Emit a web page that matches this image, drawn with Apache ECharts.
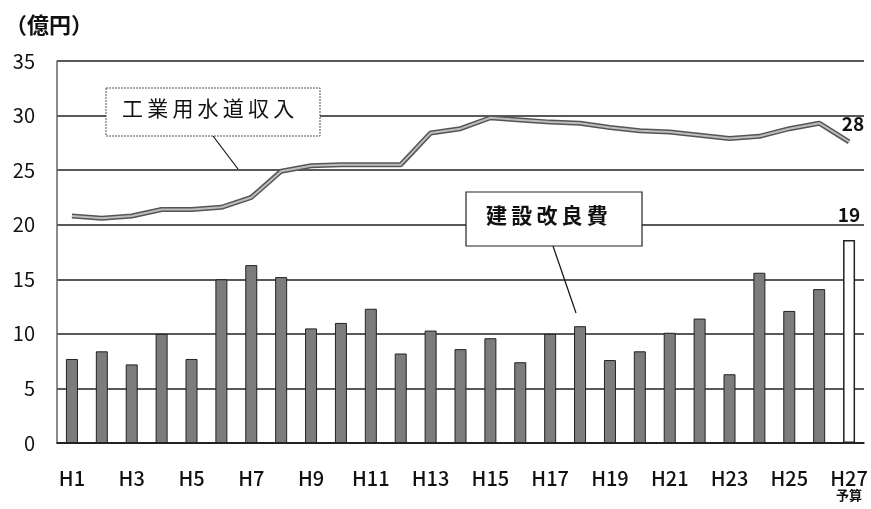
<!DOCTYPE html>
<html>
<head>
<meta charset="utf-8">
<script src="https://cdn.jsdelivr.net/npm/echarts@6/dist/echarts.min.js"></script>
<style>
html, body { margin: 0; padding: 0; background: #fff; }
#chart { width: 871px; height: 509px; }
</style>
</head>
<body>
<div id="chart"></div>
<script>
const years = ['H1','H2','H3','H4','H5','H6','H7','H8','H9','H10','H11','H12','H13','H14',
    'H15','H16','H17','H18','H19','H20','H21','H22','H23','H24','H25','H26','H27'];
// 工業用水道収入 (億円)
const revenue = [20.8, 20.6, 20.8, 21.4, 21.4, 21.6, 22.5, 24.9, 25.4, 25.5, 25.5, 25.5, 28.4, 28.8,
    29.8, 29.6, 29.4, 29.3, 28.9, 28.6, 28.5, 28.2, 27.9, 28.1, 28.8, 29.3, 27.6];
// 建設改良費 (億円), last one is the budget
const construction = [7.7, 8.4, 7.2, 10.0, 7.7, 15.0, 16.3, 15.2, 10.5, 11.0, 12.3, 8.2, 10.3, 8.6,
    9.6, 7.4, 10.0, 10.7, 7.6, 8.4, 10.1, 11.4, 6.3, 15.6, 12.1, 14.1, 18.6];
const yTicks = [0, 5, 10, 15, 20, 25, 30, 35];

const font = '"Noto Sans CJK JP", "Noto Sans", sans-serif';
const last = years.length - 1;
const sp = '\u2009';

let myChart;

window.onload = function () {
    myChart = echarts.init(document.getElementById('chart'));
    myChart.setOption(option);
}

const option = {
    animation: false,
    grid: { left: 57, right: 7, top: 61, bottom: 66 },
    xAxis: {
        type: 'category',
        data: years,
        axisLine: { lineStyle: { color: '#111', width: 1.5 } },
        axisTick: { interval: 1, length: 5, lineStyle: { color: '#111' } },
        axisLabel: {
            interval: 1,
            margin: 24,
            fontFamily: font,
            fontSize: 20,
            fontWeight: 500,
            color: '#111',
            lineHeight: 22,
            formatter: function (v) {
                return v === 'H27' ? v + '\n{s|予算}' : v;
            },
            rich: { s: { fontSize: 13, fontWeight: 'bold', fontFamily: font, color: '#111', lineHeight: 12 } }
        }
    },
    yAxis: {
        type: 'value',
        min: yTicks[0],
        max: yTicks[yTicks.length - 1],
        interval: 5,
        axisLine: { show: true, lineStyle: { color: '#666', width: 1.5 } },
        axisTick: { show: false },
        splitLine: { lineStyle: { color: '#222', width: 1.5 } },
        axisLabel: { fontFamily: font, fontSize: 20, color: '#111', margin: 22 }
    },
    series: [
        {
            name: '建設改良費',
            type: 'bar',
            barWidth: 12,
            data: construction.map(function (v, i) {
                return i === last
                    ? { value: v, itemStyle: { color: '#fff', borderColor: '#222', borderWidth: 1.5 },
                        label: { show: true } }
                    : v;
            }),
            itemStyle: { color: '#7c7c7c', borderColor: '#222', borderWidth: 1 },
            label: {
                show: false,
                position: 'top',
                distance: 16,
                formatter: function (p) { return Math.round(p.value); },
                fontFamily: font, fontSize: 19, fontWeight: 'bold', color: '#111'
            }
        },
        {
            name: '工業用水道収入',
            type: 'line',
            data: revenue.map(function (v, i) {
                return i === last ? { value: v, label: { show: true } } : v;
            }),
            symbol: 'circle',
            symbolSize: 0,
            showSymbol: true,
            lineStyle: { color: '#555', width: 5 },
            label: {
                show: false,
                position: 'top',
                distance: 8,
                offset: [4, 0],
                formatter: function (p) { return Math.round(p.value); },
                fontFamily: font, fontSize: 19, fontWeight: 'bold', color: '#111'
            },
            z: 3
        },
        {
            // thin lighter core to mimic the outlined line
            type: 'line',
            data: revenue,
            symbol: 'none',
            silent: true,
            lineStyle: { color: '#bdbdbd', width: 2 },
            z: 4
        }
    ],
    graphic: [
        { type: 'text', left: 5, top: 14,
          style: { text: '（億円）', font: 'bold 22px ' + font, fill: '#111' } },
        { type: 'line', z: 10, shape: { x1: 213, y1: 136, x2: 238, y2: 169 },
          style: { stroke: '#111', lineWidth: 1.2 } },
        { type: 'rect', z: 10, shape: { x: 106, y: 88, width: 214, height: 48 },
          style: { fill: '#fff', stroke: '#555', lineWidth: 1, lineDash: [2, 1] } },
        { type: 'text', z: 11, left: 122, top: 98,
          style: { text: '工業用水道収入'.split('').join(sp), font: '21px ' + font, fill: '#111' } },
        { type: 'line', z: 10, shape: { x1: 553, y1: 246, x2: 576, y2: 313 },
          style: { stroke: '#111', lineWidth: 1.2 } },
        { type: 'rect', z: 10, shape: { x: 466, y: 192, width: 176, height: 54 },
          style: { fill: '#fff', stroke: '#222', lineWidth: 1.2 } },
        { type: 'text', z: 11, left: 486, top: 205,
          style: { text: '建設改良費'.split('').join(sp), font: 'bold 21px ' + font, fill: '#111' } }
    ]
};
</script>
</body>
</html>
